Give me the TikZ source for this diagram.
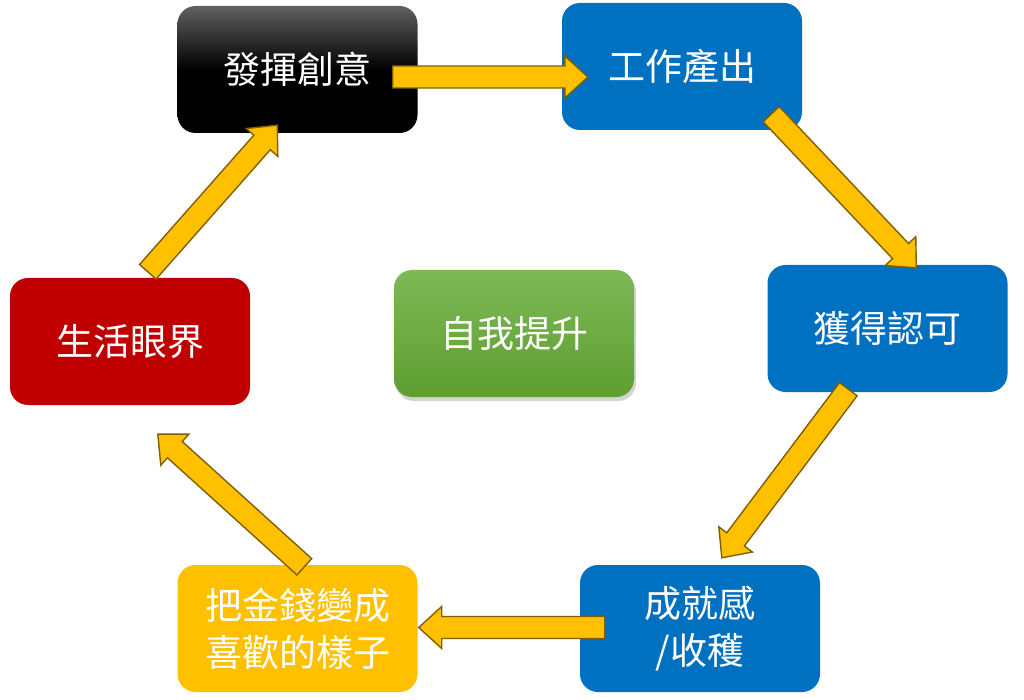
\documentclass[tikz,border=0pt]{standalone}
\usepackage{fontspec}
\newfontfamily\cjk{Noto Sans CJK TC}
\usetikzlibrary{calc,shadows}
\definecolor{cblue}{HTML}{0070C0}
\definecolor{cred}{HTML}{C00000}
\definecolor{cyellow}{HTML}{FFC000}
\definecolor{aborder}{HTML}{7F6000}
\definecolor{gtop}{RGB}{125,185,85}
\definecolor{gbot}{RGB}{95,158,50}
\tikzset{
  box/.style={rectangle, rounded corners=18pt, minimum width=240pt, minimum height=127pt,
    inner sep=0pt, text=white, align=center, font=\cjk\fontsize{37}{47}\selectfont},
  yarrow/.style={fill=cyellow, draw=aborder, line width=1.4pt, line join=miter}
}
\newcommand\blockarrow[2]{%
  \path (#2) coordinate (ba-e) ($(#2)!23pt!(#1)$) coordinate (ba-h);
  \draw[yarrow] ($(#1)!11pt!90:(ba-e)$) -- ($(ba-h)!11pt!90:(ba-e)$) -- ($(ba-h)!21pt!90:(ba-e)$)
     -- (ba-e) -- ($(ba-h)!21pt!-90:(ba-e)$) -- ($(ba-h)!11pt!-90:(ba-e)$)
     -- ($(#1)!11pt!-90:(ba-e)$) -- cycle;
}
\begin{document}
\begin{tikzpicture}[x=1pt,y=-1pt]
\useasboundingbox (0,0) rectangle (1024,700);
\node[box, top color=black!62, bottom color=black, middle color=black] (n1) at (297.5,69.5) {發揮創意};
\node[box, fill=cblue] (n2) at (682,66.5) {工作產出};
\node[box, fill=cblue] (n3) at (887.5,328.5) {獲得認可};
\node[box, fill=cblue] (n4) at (700,628.5) {成就感\\/收穫};
\node[box, fill=cyellow] (n5) at (297.5,628.5) {把金錢變成\\喜歡的樣子};
\node[box, fill=cred] (n6) at (130,341.5) {生活眼界};
\node[box, top color=gtop, bottom color=gbot,
  drop shadow={shadow xshift=2pt, shadow yshift=-4pt, opacity=0.35}] (c) at (514,333.5) {自我提升};
% arrow end points
\coordinate (t1) at ($(n1.east)+(-25,7.5)$);
\coordinate (h1) at ($(n2.west)+(26,10.5)$);
\coordinate (t2) at ($(n2.south east)+(-31,-16)$);
\coordinate (h2) at ($(n3.north west)+(149,3)$);
\coordinate (t3) at ($(n3.south west)+(81,-3)$);
\coordinate (h3) at ($(n4.north west)+(142,-7)$);
\coordinate (t4) at ($(n4.west)+(25,-1)$);
\coordinate (h4) at ($(n5.east)+(1,-1)$);
\coordinate (t5) at ($(n5.north west)+(127,2)$);
\coordinate (h5) at ($(n6.south west)+(148,29)$);
\coordinate (t6) at ($(n6.north west)+(138,-6)$);
\coordinate (h6) at ($(n1.south west)+(100,-8)$);
\blockarrow{t1}{h1}
\blockarrow{t2}{h2}
\blockarrow{t3}{h3}
\blockarrow{t4}{h4}
\blockarrow{t5}{h5}
\blockarrow{t6}{h6}
\end{tikzpicture}
\end{document}
